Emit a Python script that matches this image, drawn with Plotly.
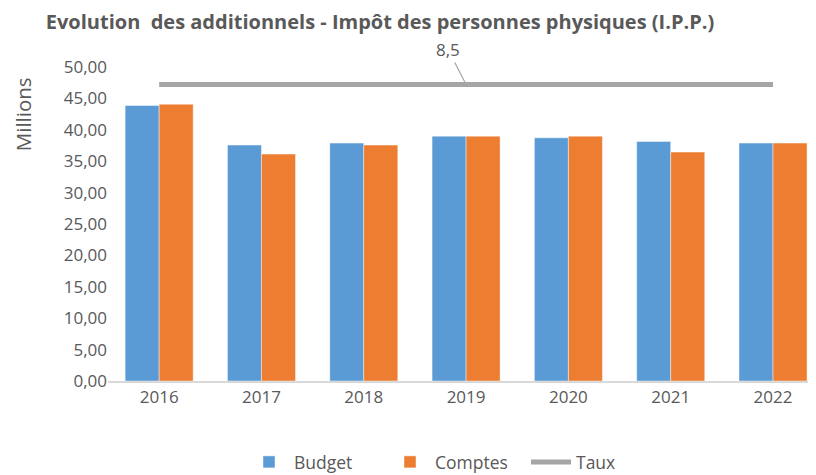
import plotly.graph_objects as go

years = ["2016", "2017", "2018", "2019", "2020", "2021", "2022"]
budget = [43.87, 37.56, 37.88, 38.99, 38.72, 38.15, 37.88]
comptes = [44.07, 36.13, 37.56, 38.99, 38.99, 36.45, 37.88]
taux = [8.5, 8.5, 8.5, 8.5, 8.5, 8.5, 8.5]
taux_label = "8,5"
ytick_vals = [0, 5, 10, 15, 20, 25, 30, 35, 40, 45, 50]
ytick_text = ["0,00", "5,00", "10,00", "15,00", "20,00", "25,00", "30,00",
              "35,00", "40,00", "45,00", "50,00"]

FONT = "Open Sans"
GREY = "#595959"

# page has 8px body margin -> figure is 808x467 placed at (8,8)
W, H = 808, 467
L, T, B = 100, 58.7, 93.5
PW, PH = W - L, H - T - B

fig = go.Figure()
fig.add_trace(go.Bar(name="Budget", x=years, y=budget, marker=dict(color="#5B9BD5", line=dict(width=0.8, color="rgba(255,255,255,0.55)"))))
fig.add_trace(go.Bar(name="Comptes", x=years, y=comptes, marker=dict(color="#ED7D31", line=dict(width=0.8, color="rgba(255,255,255,0.55)"))))
fig.add_trace(go.Scatter(name="Taux", x=years, y=taux, yaxis="y2", mode="lines",
                         line=dict(color="#A5A5A5", width=5)))

label_idx = years.index("2019")
fig.add_annotation(x=label_idx, y=taux[label_idx], xref="x", yref="y2", text=taux_label,
                   showarrow=True, arrowhead=0, arrowwidth=1.2, arrowcolor="#A5A5A5",
                   ax=-18, ay=-35, standoff=0, font=dict(family=FONT, size=17, color=GREY))
fig.add_annotation(x=(15 - L) / PW, y=(T + PH - 106) / PH, xref="paper", yref="paper", text="Millions",
                   xanchor="center", yanchor="middle",
                   textangle=-90, showarrow=False, font=dict(family=FONT, size=20.5, color=GREY))

fig.update_layout(
    width=W, height=H,
    margin=dict(l=L, r=0, t=T, b=B),
    paper_bgcolor="white", plot_bgcolor="white",
    barmode="group", bargap=0.335, bargroupgap=0,
    title=dict(text="<b>Evolution  des additionnels - Impôt des personnes physiques (I.P.P.)</b>",
               x=372 / W, xanchor="center", xref="container",
               y=1 - 14 / H, yanchor="middle", yref="container",
               font=dict(family=FONT, size=20, color=GREY)),
    xaxis=dict(type="category", range=[-0.5, 6.42], showline=True, linecolor="#D9D9D9",
               linewidth=1.5, ticks="", showgrid=False,
               tickfont=dict(family=FONT, size=17, color=GREY)),
    yaxis=dict(range=[0, 50], tickvals=ytick_vals, ticktext=ytick_text, showgrid=False,
               zeroline=False, showline=False, ticks="",
               tickfont=dict(family=FONT, size=17, color=GREY)),
    yaxis2=dict(range=[0, 9], overlaying="y", side="right", showgrid=False, zeroline=False,
                showline=False, showticklabels=False, ticks=""),
    legend=dict(orientation="h", x=236 / W, xanchor="left", y=1 - 454 / H, yanchor="middle",
                yref="container", xref="container", font=dict(family=FONT, size=17.5, color=GREY),
                itemwidth=40, traceorder="normal", entrywidth=86),
    showlegend=True,
)

fig.write_html("out.html")
